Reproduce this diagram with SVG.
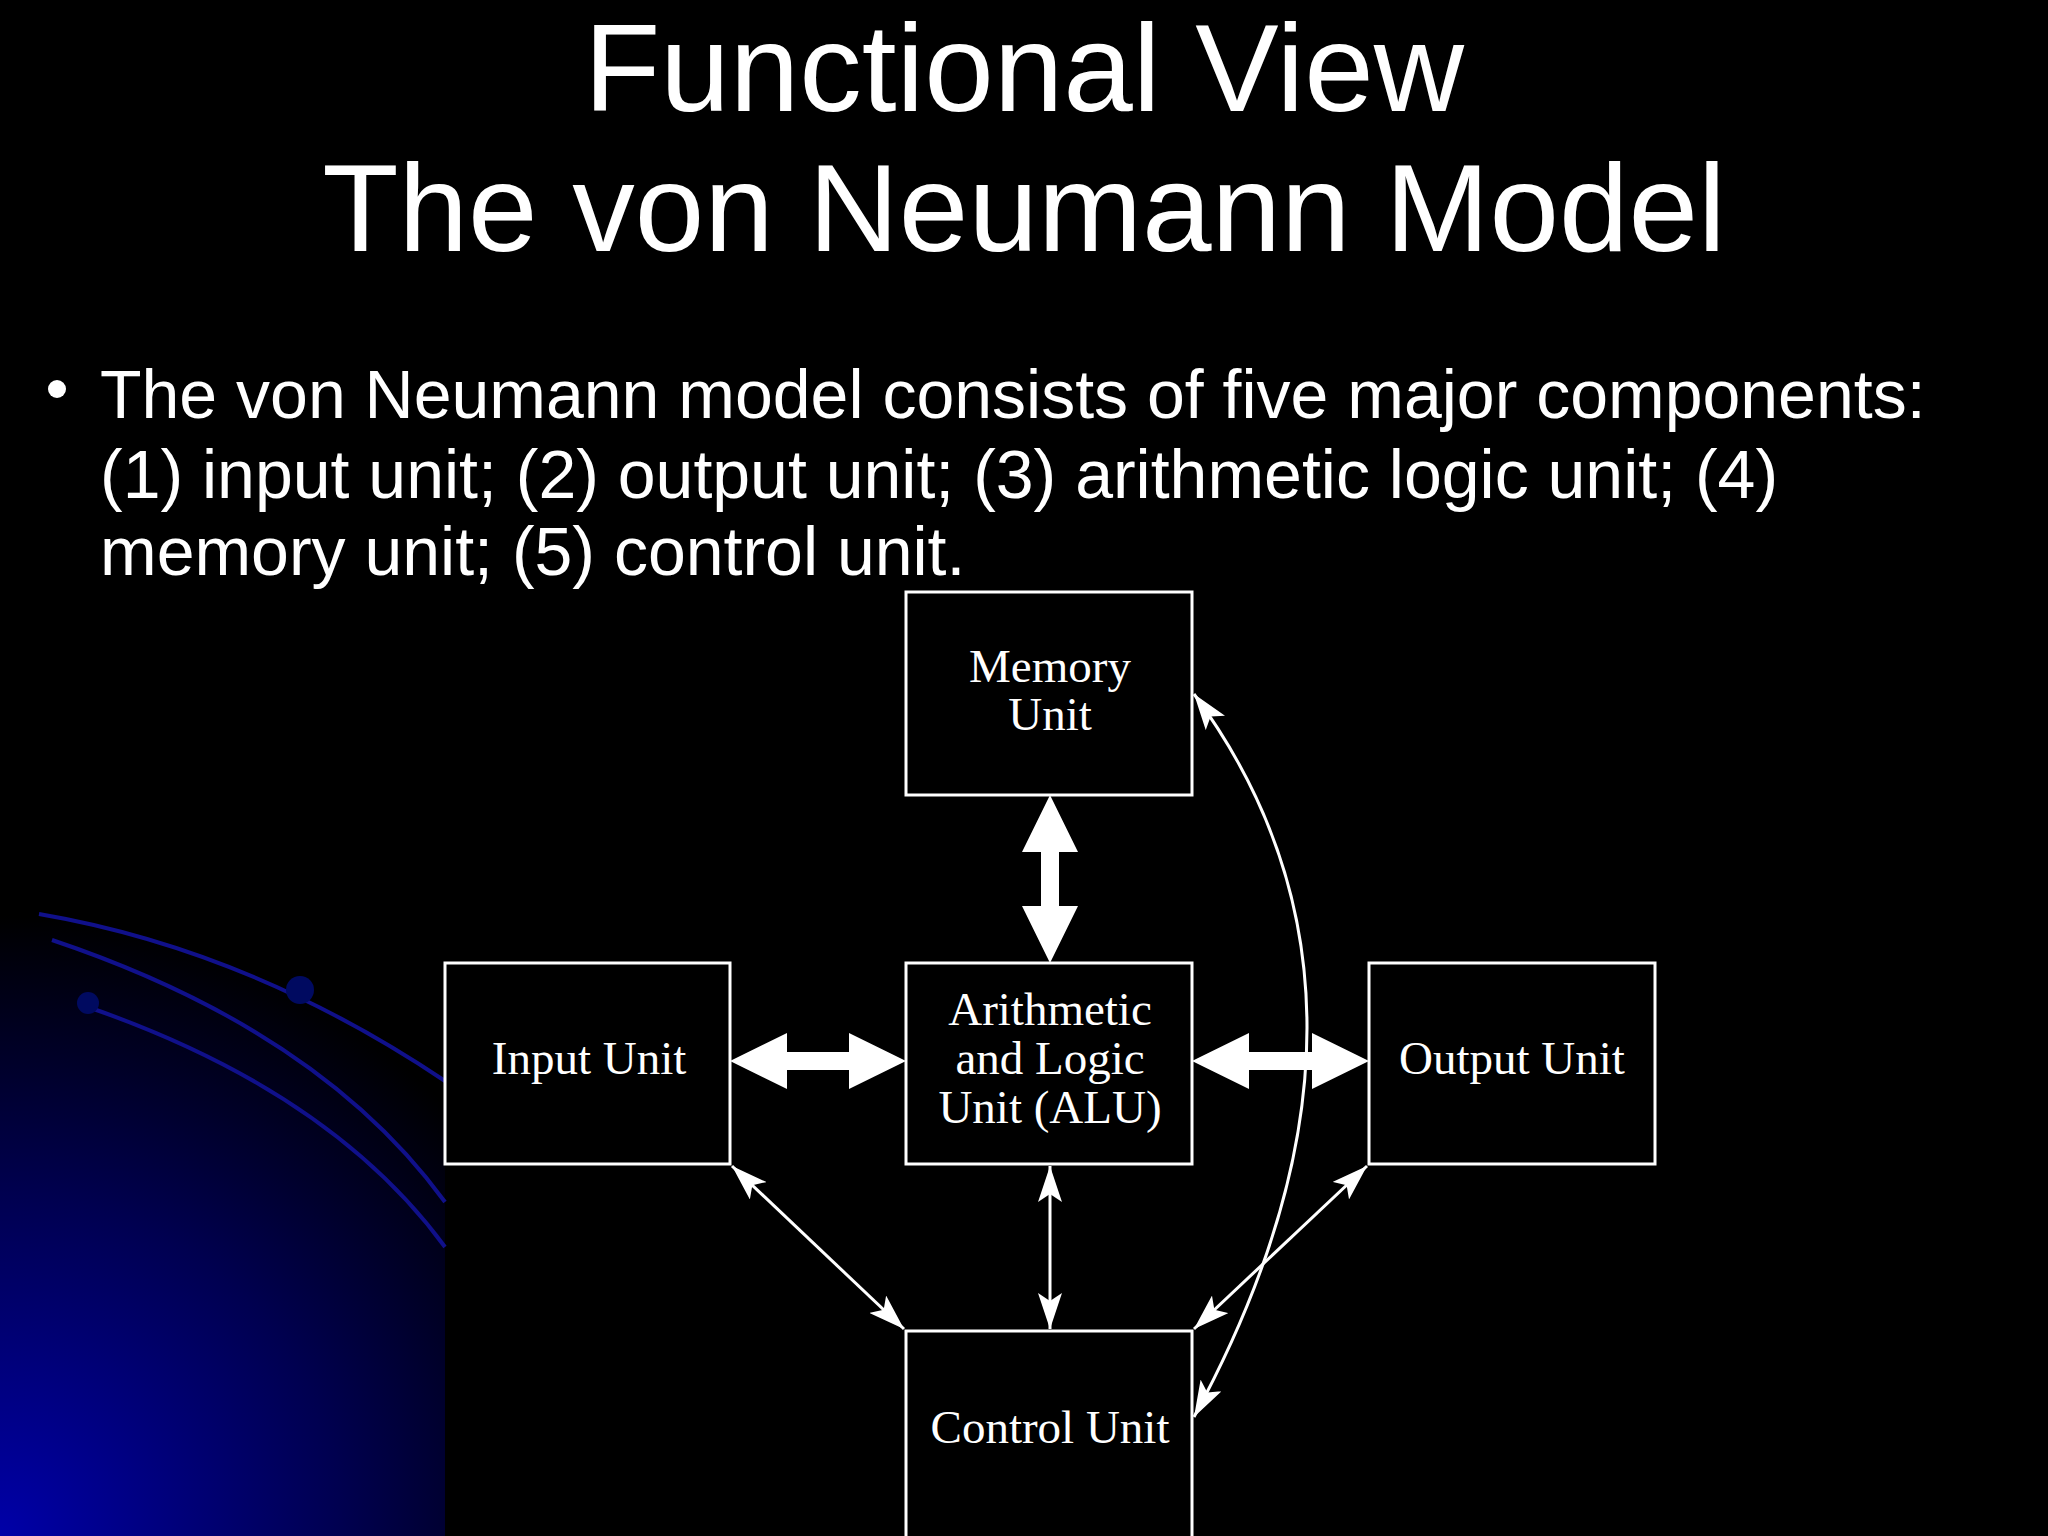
<svg xmlns="http://www.w3.org/2000/svg" width="2048" height="1536" viewBox="0 0 2048 1536">
<defs>
<radialGradient id="bg" cx="0" cy="1536" r="620" gradientUnits="userSpaceOnUse">
<stop offset="0" stop-color="#0000a8"/><stop offset="0.55" stop-color="#000050"/><stop offset="1" stop-color="#000000"/>
</radialGradient>
<marker id="ah2" viewBox="0 0 36 24" refX="36" refY="12" markerWidth="36" markerHeight="24" markerUnits="userSpaceOnUse" orient="auto-start-reverse">
<path d="M0,0 L36,12 L0,24 L8,12 Z" fill="#fff"/>
</marker>
</defs>
<style>
.box{fill:#000;stroke:#fff;stroke-width:3}
.lbl{font-family:"Liberation Serif",serif;font-size:47px;fill:#fff;text-anchor:middle}
.thin{stroke:#fff;stroke-width:3;fill:none}
.fat{fill:#fff}
.deco{stroke:#10108a;stroke-width:4;fill:none}
</style>
<rect width="2048" height="1536" fill="#000"/>
<rect x="0" y="880" width="445" height="656" fill="url(#bg)"/>
<g id="decor">
<path class="deco" d="M39,914 Q250,950 445,1081"/>
<path class="deco" d="M52,940 Q320,1030 445,1202"/>
<path class="deco" d="M85,1006 Q330,1090 445,1247"/>
<circle cx="300" cy="990" r="14" fill="#000a60"/>
<circle cx="88" cy="1003" r="11" fill="#000a60"/>
</g>
<g id="title" font-family="Liberation Sans,Arial,sans-serif" fill="#fff" text-anchor="middle" font-size="125">
<text x="1024" y="111">Functional View</text>
<text x="1024" y="251">The von Neumann Model</text>
</g>
<g id="bullet" font-family="Liberation Sans,Arial,sans-serif" fill="#fff" font-size="68">
<circle cx="57" cy="389" r="9" fill="#fff"/>
<text x="100" y="418">The von Neumann model consists of five major components:</text>
<text x="100" y="498">(1) input unit; (2) output unit; (3) arithmetic logic unit; (4)</text>
<text x="100" y="575">memory unit; (5) control unit.</text>
</g>
<g id="connectors">
<polygon class="fat" points="1050,795 1078,852 1059,852 1059,906 1078,906 1050,963 1022,906 1041,906 1041,852 1022,852"/>
<polygon class="fat" points="730,1061 787,1033 787,1052 849,1052 849,1033 906,1061 849,1089 849,1070 787,1070 787,1089"/>
<polygon class="fat" points="1192,1061 1249,1033 1249,1052 1312,1052 1312,1033 1369,1061 1312,1089 1312,1070 1249,1070 1249,1089"/>
<line class="thin" x1="1050" y1="1166" x2="1050" y2="1329" marker-start="url(#ah2)" marker-end="url(#ah2)"/>
<line class="thin" x1="732" y1="1166" x2="904" y2="1329" marker-start="url(#ah2)" marker-end="url(#ah2)"/>
<line class="thin" x1="1367" y1="1166" x2="1194" y2="1329" marker-start="url(#ah2)" marker-end="url(#ah2)"/>
<path class="thin" d="M1194,694 Q1420,1000 1194,1417" marker-start="url(#ah2)" marker-end="url(#ah2)"/>
</g>
<g id="memory"><rect class="box" x="906" y="592" width="286" height="203"/>
<text class="lbl" x="1050" y="682">Memory</text><text class="lbl" x="1050" y="730">Unit</text></g>
<g id="input"><rect class="box" x="445" y="963" width="285" height="201"/>
<text class="lbl" x="589" y="1074">Input Unit</text></g>
<g id="alu"><rect class="box" x="906" y="963" width="286" height="201"/>
<text class="lbl" x="1050" y="1025">Arithmetic</text><text class="lbl" x="1050" y="1074">and Logic</text><text class="lbl" x="1050" y="1123">Unit (ALU)</text></g>
<g id="output"><rect class="box" x="1369" y="963" width="286" height="201"/>
<text class="lbl" x="1512" y="1074">Output Unit</text></g>
<g id="control"><rect class="box" x="906" y="1331" width="286" height="220"/>
<text class="lbl" x="1050" y="1443">Control Unit</text></g>
</svg>
